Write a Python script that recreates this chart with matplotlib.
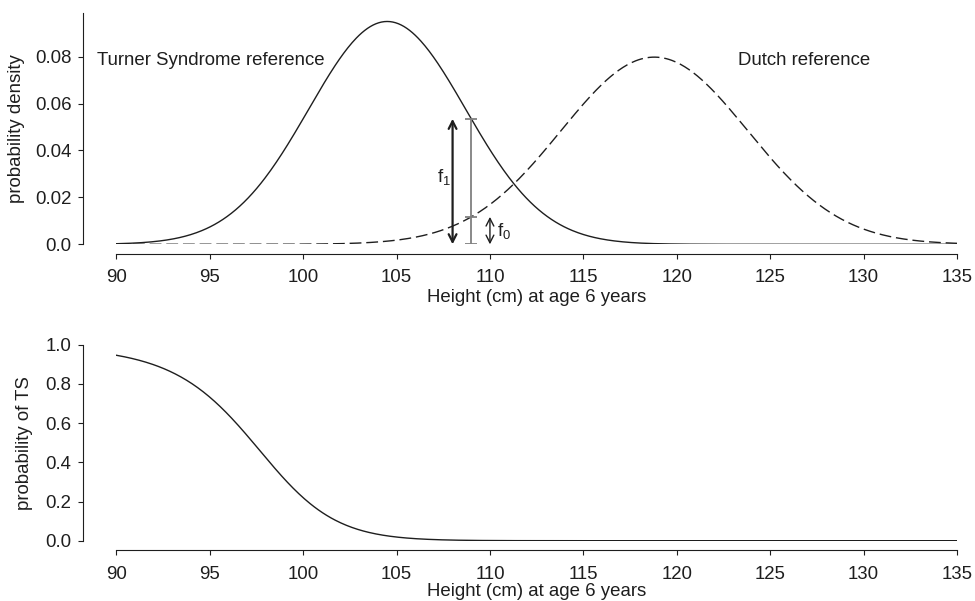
"""Height at age 6: Turner syndrome vs Dutch reference, and the implied probability of TS."""

import numpy as np
import matplotlib

matplotlib.use("Agg")
import matplotlib.pyplot as plt
from matplotlib.patches import FancyArrowPatch

plt.rcParams["font.family"] = ["Liberation Sans", "DejaVu Sans"]
plt.rcParams["mathtext.fontset"] = "custom"
plt.rcParams["mathtext.rm"] = "Liberation Sans"

# Reference distributions for height (cm) of girls at age 6
ts_mean = 104.5
ts_sd = 4.2
dutch_mean = 118.8
dutch_sd = 5.0
ts_prevalence = 1 / 2800

# height at which the two densities f1 and f0 are marked
marked_height = 109.0
arrow_offset = 1.0

height_ticks = [90, 95, 100, 105, 110, 115, 120, 125, 130, 135]
density_ticks = [0.0, 0.02, 0.04, 0.06, 0.08]
density_labels = ["0.0", "0.02", "0.04", "0.06", "0.08"]
prob_ticks = [0.0, 0.2, 0.4, 0.6, 0.8, 1.0]
prob_labels = ["0.0", "0.2", "0.4", "0.6", "0.8", "1.0"]

INK = "#1e1e1e"
GREY = "#808080"
FS = 13.4


def normal_pdf(x, mean, sd):
    return np.exp(-0.5 * ((x - mean) / sd) ** 2) / (sd * np.sqrt(2 * np.pi))


def style_axis(ax, yticks, ylabels, xoffset_pt, yoffset_pt):
    for side in ("top", "right"):
        ax.spines[side].set_visible(False)
    for side in ("left", "bottom"):
        ax.spines[side].set_color(INK)
        ax.spines[side].set_linewidth(0.8)
    ax.spines["left"].set_position(("outward", xoffset_pt))
    ax.spines["bottom"].set_position(("outward", yoffset_pt))
    ax.set_xlim(90, 135)
    ax.set_xticks(height_ticks)
    ax.set_yticks(yticks)
    ax.set_yticklabels(ylabels)
    ax.tick_params(direction="out", length=3.6, width=0.8, color=INK,
                   labelcolor=INK, labelsize=FS)
    ax.tick_params(axis="x", pad=7.5)
    ax.tick_params(axis="y", pad=4.5)


heights = np.linspace(90, 135, 600)
f1 = normal_pdf(heights, ts_mean, ts_sd)
f0 = normal_pdf(heights, dutch_mean, dutch_sd)
prob_ts = ts_prevalence * f1 / (ts_prevalence * f1 + (1 - ts_prevalence) * f0)

f1_mark = normal_pdf(marked_height, ts_mean, ts_sd)
f0_mark = normal_pdf(marked_height, dutch_mean, dutch_sd)

fig = plt.figure(figsize=(9.75, 6.01), dpi=100)
ax1 = fig.add_axes([0.11928, 0.59351, 0.86226, 0.38486])
ax2 = fig.add_axes([0.11928, 0.10033, 0.86226, 0.32612])

# top panel: the two densities
ax1.plot(heights, f1, color=INK, lw=1.0)
ax1.plot(heights, f0, color=INK, lw=1.0, dashes=(8.5, 3.5))
ax1.set_ylim(0, 0.0986)

cap = 0.32
ax1.vlines(marked_height, 0, f1_mark, color=GREY, lw=1.3)
ax1.hlines([0, f0_mark, f1_mark], marked_height - cap, marked_height + cap,
           color=GREY, lw=1.3)

for x, top, lw in [(marked_height - arrow_offset, f1_mark, 1.6),
                   (marked_height + arrow_offset, f0_mark, 1.0)]:
    ax1.add_patch(FancyArrowPatch(
        (x, 0), (x, top), arrowstyle="<->,head_length=0.55,head_width=0.28",
        mutation_scale=10, lw=lw, color=INK, shrinkA=0, shrinkB=0))

ax1.text(marked_height - arrow_offset - 0.1, f1_mark / 2 + 0.002,
         r"$\mathregular{f_1}$", ha="right", va="center", fontsize=FS, color=INK)
ax1.text(marked_height + arrow_offset + 0.4, f0_mark / 2,
         r"$\mathregular{f_0}$", ha="left", va="center", fontsize=FS, color=INK)

ax1.text(88.95, 0.0765, "Turner Syndrome reference", ha="left", va="baseline",
         fontsize=FS, color=INK)
ax1.text(123.26, 0.0765, "Dutch reference", ha="left", va="baseline",
         fontsize=FS, color=INK)

style_axis(ax1, density_ticks, density_labels, 24.2, 7.0)
ax1.set_ylabel("probability density", fontsize=FS, color=INK)
ax1.yaxis.set_label_coords(-0.1086, 0.5)

# bottom panel: posterior probability of Turner syndrome
ax2.plot(heights, prob_ts, color=INK, lw=1.0)
ax2.set_ylim(0, 1)
style_axis(ax2, prob_ticks, prob_labels, 24.2, 6.8)
ax2.set_ylabel("probability of TS", fontsize=FS, color=INK)
ax2.yaxis.set_label_coords(-0.0987, 0.5)

for ax, base_px, bottom_px in [(ax1, 301.7, 244.3), (ax2, 596.0, 540.7)]:
    height_px = ax.get_position().height * 601
    ax.set_xlabel("Height (cm) at age 6 years", fontsize=FS, color=INK)
    ax.xaxis.set_label_coords(0.5, -(base_px - bottom_px) / height_px)
    ax.xaxis.label.set_verticalalignment("baseline")

fig.savefig("out.png", dpi=100)
